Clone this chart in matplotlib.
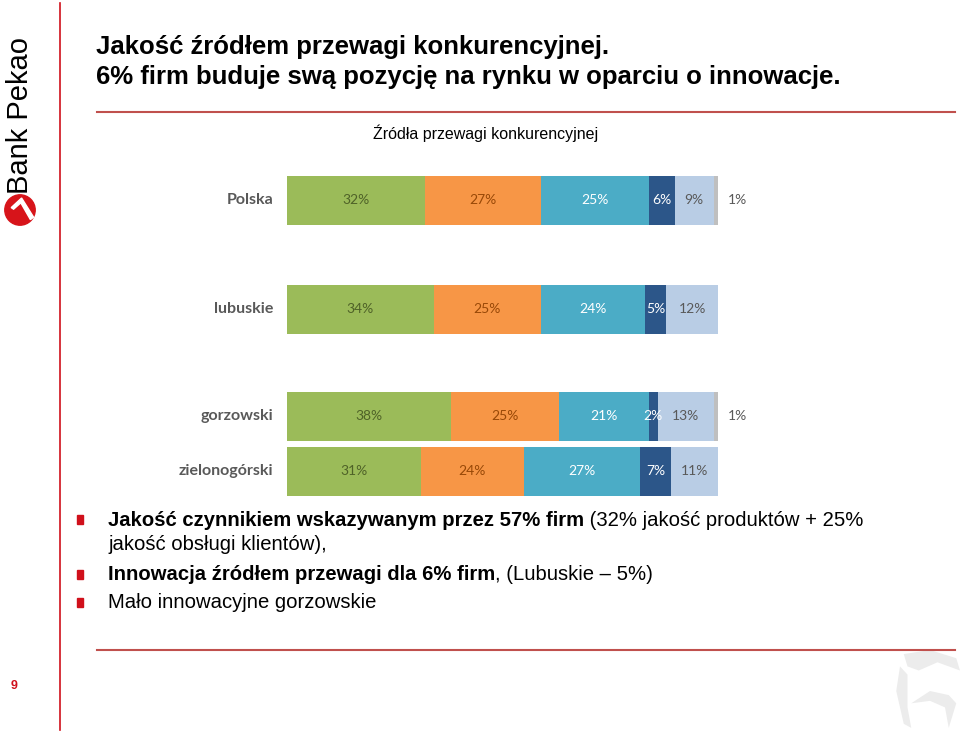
import matplotlib
matplotlib.use("Agg")
import matplotlib.pyplot as plt
from matplotlib import font_manager
from matplotlib.patches import Circle, Polygon, Rectangle
from matplotlib.lines import Line2D

# ---------------- data ----------------
categories = ["Polska", "lubuskie", "gorzowski", "zielonogórski"]
s_jakosc_prod = [32, 34, 38, 31]
s_jakosc_obsl = [27, 25, 25, 24]
s_cena = [25, 24, 21, 27]
s_innowacje = [6, 5, 2, 7]
s_inne = [9, 12, 13, 11]
s_brak = [1, 0, 1, 0]
series = [s_jakosc_prod, s_jakosc_obsl, s_cena, s_innowacje, s_inne, s_brak]

title_lines = ["Jakość źródłem przewagi konkurencyjnej.",
               "6% firm buduje swą pozycję na rynku w oparciu o innowacje."]
chart_title = "Źródła przewagi konkurencyjnej"
bullets = [
    [("Jakość czynnikiem wskazywanym przez 57% firm", True),
     (" (32% jakość produktów + 25%", False)],
    [("jakość obsługi klientów),", False)],
    [("Innowacja źródłem przewagi dla 6% firm", True), (", (Lubuskie – 5%)", False)],
    [("Mało innowacyjne gorzowskie", False)],
]
page_number = "9"

# ---------------- style ----------------
W, H = 960, 734
seg_colors = ["#9bbb59", "#f79646", "#4bacc6", "#2c5689", "#b9cde5", "#bfbfbf"]
lab_colors = ["#4f6228", "#984807", "#ffffff", "#ffffff", "#595959", "#595959"]
RED = "#d0101b"


def has_font(name):
    try:
        font_manager.findfont(font_manager.FontProperties(family=name),
                              fallback_to_default=False)
        return True
    except Exception:
        return False


NARROW = "Liberation Sans Narrow" if has_font("Liberation Sans Narrow") else "Liberation Sans"
CAL = "Lato" if has_font("Lato") else "DejaVu Sans"

fig = plt.figure(figsize=(W / 100, H / 100), dpi=100)
fig.patch.set_facecolor("white")


def fx(x):
    return x / W


def fy(y):
    return 1 - y / H


# red frame lines
fig.add_artist(Line2D([fx(60), fx(60)], [fy(3), fy(730)], color=RED, lw=1.2))
fig.add_artist(Line2D([fx(97), fx(955)], [fy(112), fy(112)], color="#c0504d", lw=1.5))
fig.add_artist(Line2D([fx(97), fx(955)], [fy(650), fy(650)], color="#c0504d", lw=1.5))

# faint watermark (bottom right)
wm = fig.add_axes([fx(885), fy(732), 75 / W, 82 / H])
wm.set_xlim(0, 1)
wm.set_ylim(0, 1)
wm.axis("off")
wm.add_patch(Polygon([(0.25, 0.95), (0.6, 1.0), (0.95, 0.9), (1.0, 0.75), (0.7, 0.85),
                      (0.45, 0.75), (0.3, 0.8)], closed=True, color="#ececec", lw=0))
wm.add_patch(Polygon([(0.2, 0.8), (0.3, 0.7), (0.3, 0.3), (0.35, 0.05), (0.25, 0.1),
                      (0.15, 0.5)], closed=True, color="#ececec", lw=0))
wm.add_patch(Polygon([(0.35, 0.35), (0.6, 0.5), (0.85, 0.45), (0.95, 0.35), (0.85, 0.05),
                      (0.8, 0.3), (0.6, 0.38)], closed=True, color="#ececec", lw=0))

# logo
fig.text(fx(20), fy(115), "Bank Pekao", rotation=90, ha="center", va="center",
         fontsize=21, family=NARROW, color="black")
logo_ax = fig.add_axes([fx(4), fy(226), fx(32), 32 / H])
logo_ax.set_xlim(-1, 1)
logo_ax.set_ylim(-1, 1)
logo_ax.set_aspect("equal")
logo_ax.axis("off")
logo_ax.add_patch(Circle((0, 0), 0.95, color="#d7141a"))
logo_ax.add_patch(Polygon([(-0.55, 0.15), (0.1, 0.75), (0.85, -0.45), (0.65, -0.6),
                           (0.05, 0.45), (-0.4, 0.05)], closed=True, color="white"))

# page number
fig.text(fx(14), fy(686), page_number, color=RED, fontsize=9, fontweight="bold",
         ha="center", va="center", family="Liberation Sans")

# title
fig.text(fx(96), fy(47), title_lines[0], fontsize=18.5, fontweight="bold",
         family="Liberation Sans", va="center", ha="left")
fig.text(fx(96), fy(77), title_lines[1], fontsize=18.5, fontweight="bold",
         family="Liberation Sans", va="center", ha="left")

# chart title
fig.text(fx(486), fy(133), chart_title, fontsize=11.5, family="Liberation Sans",
         ha="center", va="center")

# ---------------- bar chart ----------------
x0, x1 = 287, 718
y0, y1 = 160, 505
ax = fig.add_axes([fx(x0), fy(y1), (x1 - x0) / W, (y1 - y0) / H])
ax.set_xlim(0, 100)
ax.set_ylim(y1, y0)
ax.axis("off")
ypos = [200, 309, 416, 471]
bh = 49

left = [0] * len(categories)
for k, vals in enumerate(series):
    ax.barh(ypos, vals, left=left, height=bh, color=seg_colors[k], linewidth=0)
    for i, v in enumerate(vals):
        if v <= 0:
            continue
        if k == len(series) - 1:
            ax.annotate(f"{v}%", xy=(left[i] + v, ypos[i]), xytext=(7, 0),
                        textcoords="offset points", ha="left", va="center",
                        fontsize=10, family=CAL, color="#595959")
        else:
            ax.text(left[i] + v / 2, ypos[i], f"{v}%", ha="center", va="center",
                    fontsize=10, family=CAL, color=lab_colors[k])
    left = [l + v for l, v in zip(left, vals)]

for i, c in enumerate(categories):
    ax.annotate(c, xy=(0, ypos[i]), xytext=(-10, 0), textcoords="offset points",
                ha="right", va="center", fontsize=11.5, fontweight="bold",
                family=CAL, color="#595959")

# ---------------- bullets ----------------
renderer = fig.canvas.get_renderer()
bullet_y = [520, 545, 575, 603]
bullet_marks = [0, 2, 3]
for by in [bullet_y[i] for i in bullet_marks]:
    fig.add_artist(Rectangle((fx(77), fy(by + 4)), 6 / W, 9 / H,
                             transform=fig.transFigure, color=RED))
for line, by in zip(bullets, bullet_y):
    xcur = 108
    for txt, bold in line:
        t = fig.text(fx(xcur), fy(by), txt, fontsize=14.6, family=NARROW,
                     fontweight="bold" if bold else "normal", va="center", ha="left")
        bb = t.get_window_extent(renderer=renderer)
        xcur += bb.width

fig.savefig("out.png", dpi=100, facecolor="white")
